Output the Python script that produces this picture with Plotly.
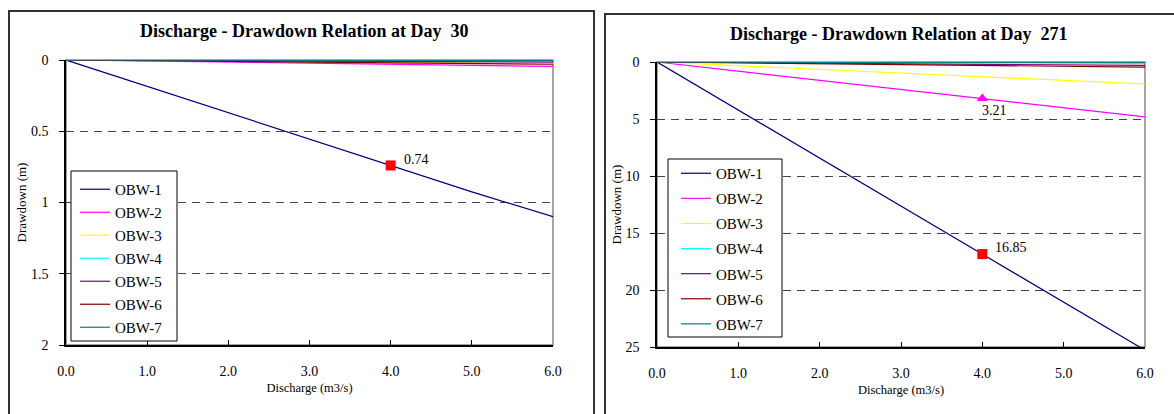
import plotly.graph_objects as go

W, H = 1174, 414

discharge = [0.0, 1.0, 2.0, 3.0, 4.0, 5.0, 6.0]
wells = ["OBW-1", "OBW-2", "OBW-3", "OBW-4", "OBW-5", "OBW-6", "OBW-7"]
colors = ["#000080", "#FF00FF", "#FFFF00", "#00FFFF", "#800080", "#800000", "#008080"]

# Day 30 drawdowns (m)
d30_obw1 = [0, 0.185, 0.37, 0.555, 0.74, 0.925, 1.10]
d30_obw2 = [0, 0.007, 0.015, 0.022, 0.030, 0.037, 0.045]
d30_obw3 = [0, 0.004, 0.008, 0.012, 0.017, 0.021, 0.025]
d30_obw4 = [0, 0.001, 0.002, 0.003, 0.004, 0.005, 0.006]
d30_obw5 = [0, 0.002, 0.005, 0.007, 0.010, 0.012, 0.015]
d30_obw6 = [0, 0.005, 0.010, 0.015, 0.020, 0.025, 0.030]
d30_obw7 = [0, 0.0005, 0.001, 0.0015, 0.002, 0.0025, 0.003]

# Day 271 drawdowns (m)
d271_obw1 = [0, 4.21, 8.43, 12.64, 16.85, 21.06, 25.28]
d271_obw2 = [0, 0.80, 1.61, 2.41, 3.21, 4.01, 4.82]
d271_obw3 = [0, 0.32, 0.64, 0.96, 1.28, 1.60, 1.93]
d271_obw4 = [0, 0.02, 0.03, 0.05, 0.07, 0.08, 0.10]
d271_obw5 = [0, 0.05, 0.10, 0.15, 0.20, 0.25, 0.30]
d271_obw6 = [0, 0.08, 0.15, 0.23, 0.30, 0.38, 0.45]
d271_obw7 = [0, 0.01, 0.02, 0.03, 0.03, 0.04, 0.05]

d30 = [d30_obw1, d30_obw2, d30_obw3, d30_obw4, d30_obw5, d30_obw6, d30_obw7]
d271 = [d271_obw1, d271_obw2, d271_obw3, d271_obw4, d271_obw5, d271_obw6, d271_obw7]

hl30_x, hl30_y, hl30_txt = 4.0, 0.74, "0.74"
hl271a_x, hl271a_y, hl271a_txt = 4.0, 16.85, "16.85"
hl271b_x, hl271b_y, hl271b_txt = 4.0, 3.21, "3.21"

xticks = [0, 1, 2, 3, 4, 5, 6]
yticks30 = [0, 0.5, 1, 1.5, 2]
yticks271 = [0, 5, 10, 15, 20, 25]

FONT = "Liberation Serif"

def px_x(p):
    return p / W

def px_y(p):
    return 1 - p / H

fig = go.Figure()

for i, (name, col) in enumerate(zip(wells, colors)):
    fig.add_trace(go.Scatter(x=discharge, y=d30[i], mode="lines", name=name,
                             line=dict(color=col, width=1.2), xaxis="x", yaxis="y",
                             legend="legend", legendgroup="a" + name))
for i, (name, col) in enumerate(zip(wells, colors)):
    fig.add_trace(go.Scatter(x=discharge, y=d271[i], mode="lines", name=name,
                             line=dict(color=col, width=1.2), xaxis="x2", yaxis="y2",
                             legend="legend2", legendgroup="b" + name))

# highlighted markers
fig.add_trace(go.Scatter(x=[hl30_x], y=[hl30_y], mode="markers",
                         marker=dict(symbol="square", size=10, color="#FF0000"),
                         xaxis="x", yaxis="y", showlegend=False))
fig.add_trace(go.Scatter(x=[hl271a_x], y=[hl271a_y], mode="markers",
                         marker=dict(symbol="square", size=10, color="#FF0000"),
                         xaxis="x2", yaxis="y2", showlegend=False))
fig.add_trace(go.Scatter(x=[hl271b_x], y=[hl271b_y], mode="markers",
                         marker=dict(symbol="triangle-up", size=10, color="#FF00FF"),
                         xaxis="x2", yaxis="y2", showlegend=False))

lab_font = dict(family=FONT, size=14, color="black")
fig.add_annotation(x=hl30_x, y=hl30_y, xref="x", yref="y", text=hl30_txt, showarrow=False,
                   xanchor="left", yanchor="middle", xshift=11, yshift=6, font=lab_font)
fig.add_annotation(x=hl271a_x, y=hl271a_y, xref="x2", yref="y2", text=hl271a_txt, showarrow=False,
                   xanchor="left", yanchor="middle", xshift=11, yshift=7, font=lab_font)
fig.add_annotation(x=hl271b_x, y=hl271b_y, xref="x2", yref="y2", text=hl271b_txt, showarrow=False,
                   xanchor="center", yanchor="middle", xshift=12, yshift=-12, font=lab_font)

axis_common = dict(showline=True, linecolor="black", linewidth=1.5, zeroline=False,
                   tickfont=dict(family=FONT, size=14, color="black"), mirror=False,
                   automargin=False)

xax = dict(axis_common, range=[0, 6], tickvals=xticks, tickformat=".1f", ticks="inside",
           ticklen=5, tickcolor="black", showgrid=False, ticklabelstandoff=12,
           title=dict(text="Discharge (m3/s)", font=dict(family=FONT, size=12.5, color="black"), standoff=6))

def yax(rng, tv, dom):
    return dict(axis_common, range=rng, tickvals=tv, ticktext=[f"{v:g}" for v in tv],
                ticks="outside", ticklen=5, tickcolor="black", showgrid=True,
                gridcolor="#444444", griddash="8px,6px", gridwidth=1, domain=dom,
                ticklabelstandoff=8,
                title=dict(text="Drawdown (m)", font=dict(family=FONT, size=13, color="black"), standoff=1))

ydom1 = [px_y(345), px_y(60)]
ydom2 = [px_y(347), px_y(62)]

leg_common = dict(xanchor="left", yanchor="top", borderwidth=0, bgcolor="rgba(0,0,0,0)",
                  font=dict(family=FONT, size=15, color="black"), itemwidth=30)

fig.update_layout(
    width=W, height=H,
    margin=dict(l=0, r=0, t=0, b=0, autoexpand=False),
    paper_bgcolor="white", plot_bgcolor="white",
    font=dict(family=FONT, color="black"),
    xaxis=dict(xax, domain=[px_x(66), px_x(553)], anchor="y"),
    yaxis=dict(yax([2, 0], yticks30, ydom1), anchor="x"),
    xaxis2=dict(xax, domain=[px_x(657), px_x(1145)], anchor="y2"),
    yaxis2=dict(yax([25, 0], yticks271, ydom2), anchor="x2"),
    legend=dict(leg_common, x=px_x(75), y=px_y(173), tracegroupgap=0.5),
    legend2=dict(leg_common, x=px_x(676), y=px_y(157), tracegroupgap=2.6),
    showlegend=True,
)

shapes = [
    # outer chart borders
    dict(type="rect", xref="paper", yref="paper", x0=px_x(9), x1=px_x(594), y0=-0.05, y1=px_y(11),
         line=dict(color="#333333", width=2), layer="below"),
    dict(type="rect", xref="paper", yref="paper", x0=px_x(605), x1=1.05, y0=-0.05, y1=px_y(14),
         line=dict(color="#333333", width=2), layer="below"),
    # plot area borders
    dict(type="rect", xref="x domain", yref="y domain", x0=0, x1=1, y0=0, y1=1,
         line=dict(color="#888888", width=1.5), layer="below"),
    dict(type="rect", xref="x2 domain", yref="y2 domain", x0=0, x1=1, y0=0, y1=1,
         line=dict(color="#888888", width=1.5), layer="below"),
    # legend boxes
    dict(type="rect", xref="paper", yref="paper", x0=px_x(71), x1=px_x(177), y0=px_y(341), y1=px_y(171),
         line=dict(color="black", width=1), fillcolor="white", layer="above"),
    dict(type="rect", xref="paper", yref="paper", x0=px_x(668), x1=px_x(782), y0=px_y(337), y1=px_y(159),
         line=dict(color="black", width=1), fillcolor="white", layer="above"),
]
fig.update_layout(shapes=shapes)

fig.add_annotation(text="<b>Discharge - Drawdown Relation at Day  30</b>", xref="paper", yref="paper",
                   x=px_x(304), y=px_y(31), xanchor="center", yanchor="middle", showarrow=False,
                   font=dict(family=FONT, size=18, color="black"))
fig.add_annotation(text="<b>Discharge - Drawdown Relation at Day  271</b>", xref="paper", yref="paper",
                   x=px_x(898), y=px_y(34), xanchor="center", yanchor="middle", showarrow=False,
                   font=dict(family=FONT, size=18, color="black"))

fig.write_html("out.html")
